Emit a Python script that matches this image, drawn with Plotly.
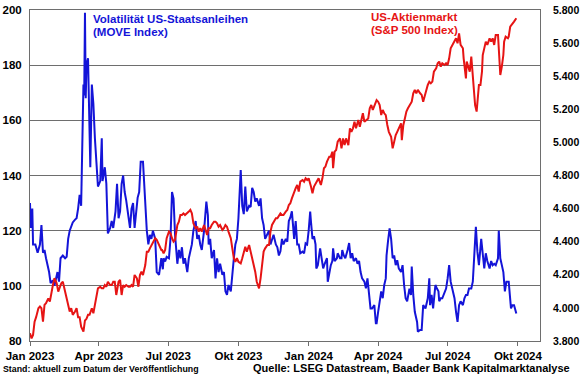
import pandas as pd
import plotly.graph_objects as go

BASE = pd.Timestamp("2023-01-01")

# MOVE index: days since 2023-01-01 and values
move_day = [
    0, 1, 3, 4, 7, 10, 13, 15, 17, 19,
    21, 25, 27, 30, 32, 36, 38, 40, 43, 46,
    48, 50, 52, 54, 56, 59, 61, 63, 65, 67,
    68, 70, 71, 72, 73, 74, 76, 77, 79, 81,
    83, 85, 87, 89, 92, 94, 95, 98, 100, 102,
    105, 107, 109, 112, 114, 116, 118, 120, 122, 124,
    126, 129, 131, 133, 135, 137, 138, 141, 143, 145,
    148, 151, 153, 155, 157, 159, 161, 164, 166, 169,
    172, 174,
    175, 177, 179, 182, 184, 186, 188, 190, 193, 195,
    197, 199, 201, 203, 206, 208, 210, 212, 214, 217,
    219, 221, 223, 225, 228, 231, 233, 234, 236, 238,
    241, 243, 245, 247, 249, 252, 254, 256, 258, 260,
    263, 265, 267, 269, 271, 273, 276, 278, 280, 282,
    284, 287, 289, 291, 293, 295, 297, 300, 302, 304,
    306, 308, 311, 313, 315, 317, 319, 322, 324, 326,
    328, 330, 332, 335, 337, 339, 341, 343, 346, 348,
    350, 352, 354, 357, 359, 361, 363, 365, 367, 368,
    370, 372, 374, 375, 377, 380, 382, 384, 386, 389,
    390, 392, 394, 396, 397, 399, 402, 403, 406, 408,
    409, 411, 413, 416, 418, 420, 422, 424, 427, 429,
    431, 433, 435, 438, 440, 442, 444, 446, 448, 451,
    453, 454, 456, 458, 460, 462, 464, 466, 467, 469,
    471, 473, 475, 477, 479, 481, 483, 486, 488, 490,
    492, 494, 497, 499, 500, 502, 504, 507, 508, 511,
    513, 515, 518,
    521, 523, 524, 526, 528, 529, 531, 533, 535, 536,
    538, 540, 543, 545, 547, 549, 551, 553, 556, 558,
    560, 562, 564, 567, 569, 571, 573, 575, 578, 580,
    582, 584, 586, 588, 591, 593, 595, 597, 599, 602,
    604, 606, 608, 610, 613, 614, 616, 618, 620, 622,
    624, 627, 629, 630, 632, 634, 637,
]
move_val = [
    130, 121, 128, 115, 115, 112, 115, 122, 112, 113,
    110, 105, 101, 102, 100, 105, 101.5, 110, 111, 110,
    110.5, 117, 120, 122, 123, 124, 124.5, 128, 133, 129,
    149, 173, 169, 199, 168, 180, 182.5, 172, 143, 173,
    166, 153.5, 145, 136, 138, 153.5, 138, 143, 137, 119,
    121, 123.5, 121, 127, 137, 124.5, 127, 137, 140, 134,
    131, 124.5, 121, 128, 130, 121, 124.5, 132, 134, 145,
    145, 128, 120, 115, 118.5, 117, 120, 117, 105, 104,
    110, 106,
    110, 108.8, 110.5, 110, 117, 134, 131.6, 118.5, 108, 113,
    110, 114, 108, 110, 105, 110, 113, 115, 120, 123.5,
    117, 118.5, 115, 113, 120, 130.5, 125.6, 115, 117, 110,
    113, 102.7, 110, 105, 108, 104, 105, 98, 96.7, 100.3,
    98, 105, 110, 115, 117, 124.5, 142, 129, 126, 136,
    127, 129, 128.6, 135.5, 134, 130.5, 131.7, 129, 131.7, 124.5,
    122, 117, 118.5, 120, 115, 117, 118.5, 115, 114, 111,
    112.5, 117, 115, 117, 116, 123.5, 124.8, 127, 117, 123.5,
    115, 115, 111.8, 112.4, 111.8, 115.4, 115, 120, 126.9, 123.3,
    117, 118, 115, 106.3, 107.5, 113.6, 109, 106.3, 108, 110,
    101.5, 105, 107.5, 109, 113.6, 109, 110, 111.8, 110, 110,
    113, 111, 110, 113, 115.5, 110, 111.8, 109, 110, 108,
    109, 105, 102.7, 101.5, 99.1, 102.7, 98, 91.8, 91.8, 93,
    86.4, 86.4, 90.6, 95.5, 98, 95.5, 100.3, 102.7, 111, 116.4,
    120.8, 117, 110, 111, 107.5, 109.3, 106.3, 105, 107.5, 100.3,
    95.5, 94.4, 99, 96.7, 107, 96.7, 90.6, 86.9, 83.4, 84,
    84, 93, 91.8,
    95.5, 102.7, 93, 96.7, 91.8, 95.5, 100.3, 99, 98, 94.4,
    95.5, 95.5, 98, 99, 102.7, 107.5, 101.5, 99, 95.5, 90.6,
    86.9, 93, 94.4, 93, 95.5, 96.7, 96.7, 99, 99, 101.5,
    113.6, 121.4, 112.4, 107.5, 117, 110, 106.3, 111.8, 109, 106.3,
    109, 107.5, 108, 107.5, 110, 120, 110, 107.5, 105, 98,
    101.5, 101.5, 95.5, 91.8, 93, 93, 90,
]

# S&P 500: days since 2023-01-01 and values
spx_day = [
    0, 2, 4, 6, 8, 11, 13, 15, 17, 19,
    21, 24, 26, 28, 30, 32, 35, 37, 39, 41,
    43, 46, 48, 50, 52, 54, 56, 59, 61, 63,
    65, 67, 70, 72, 74, 76, 78, 81, 83, 85,
    87, 89, 92, 94, 96, 98, 100, 102, 105, 107,
    109, 111, 113, 116, 118, 120, 122, 124, 126, 129,
    131, 133, 135, 137, 140, 142, 144, 146, 148, 151,
    153, 155, 157, 159, 161, 164, 166, 168, 170, 172,
    173, 175, 177, 179, 182, 184, 186, 188, 190, 193,
    195, 197, 199, 201, 203, 206, 208, 210, 212, 214,
    217, 219, 221, 223, 225, 228, 230, 232, 234, 236,
    238, 241, 243, 245, 247, 249, 252, 254, 256, 258,
    260, 263, 265, 267, 269, 271, 273, 276, 278, 280,
    282, 284, 287, 289, 291, 293, 295, 297, 300, 302,
    304, 306, 308, 311, 313, 315, 317, 319, 322, 324,
    326, 328, 330, 332, 335, 337, 339, 341, 343, 346,
    348,
    350, 352, 354, 357, 359, 361, 363, 365, 368, 370,
    372, 374, 376, 378, 381, 383, 385, 387, 389, 392,
    394, 396, 397, 399, 401, 403, 406, 408, 410, 412,
    414, 417, 419, 421, 423, 425, 427, 430, 432, 434,
    436, 438, 441, 443, 445, 447, 449, 452, 454, 456,
    458, 460, 462, 464, 466, 468, 470, 473, 475, 477,
    479, 481, 483, 486, 487, 489, 491, 493, 495, 497,
    500, 502, 504, 506, 508, 511, 513, 515, 517, 518,
    521, 523, 525, 527, 529, 532, 534, 536, 538, 540,
    543, 545, 547, 549, 551, 553, 556, 558, 560, 562,
    564, 567, 568, 570, 571, 572, 574, 576, 578, 580,
    582, 583, 585, 586, 588, 590, 592, 593, 595, 597,
    599, 602, 604, 606, 608, 610, 613, 615, 616, 618,
    620, 621, 623, 626, 627, 629, 631, 633, 634, 637,
]
spx_val = [
    3847, 3816, 3837, 3917, 3944, 3998, 4008, 3998, 3917, 4018,
    4028, 4058, 4038, 4098, 4138, 4179, 4149, 4098, 4128, 4149,
    4158, 4098, 4058, 4008, 3978, 3998, 3958, 3978, 3998, 3944,
    3944, 3887, 3857, 3924, 3934, 3958, 3958, 3998, 3968, 4018,
    4078, 4118, 4128, 4118, 4118, 4138, 4128, 4158, 4138, 4138,
    4158, 4158, 4078, 4158, 4169, 4078, 4138, 4128, 4138, 4128,
    4128, 4138, 4128, 4199, 4179, 4128, 4199, 4219, 4199, 4259,
    4340, 4340, 4360, 4380, 4400, 4421, 4411, 4390, 4380, 4350,
    4350, 4330, 4350, 4421, 4461, 4451, 4421, 4400, 4411, 4501,
    4521, 4561, 4561, 4571, 4561, 4571, 4582, 4592, 4571, 4511,
    4481, 4491, 4461, 4481, 4461, 4501, 4471, 4441, 4481, 4481,
    4501, 4521, 4521, 4511, 4491, 4501, 4471, 4481, 4501, 4491,
    4461, 4421, 4360, 4300, 4279, 4300, 4279, 4269, 4300, 4340,
    4370, 4340, 4380, 4340, 4300, 4259, 4219, 4158, 4118, 4179,
    4259, 4340, 4360, 4380, 4380, 4461, 4501, 4521, 4541, 4541,
    4561, 4571, 4561, 4561, 4582, 4592, 4622, 4632, 4662, 4703,
    4723,
    4743, 4703, 4763, 4773, 4763, 4783, 4773, 4783, 4733, 4693,
    4733, 4753, 4773, 4783, 4743, 4783, 4844, 4854, 4884, 4914,
    4914, 4944, 4844, 4944, 4954, 5004, 5024, 4964, 5024, 4984,
    5024, 4984, 5085, 5064, 5085, 5125, 5085, 5135, 5095, 5145,
    5176, 5125, 5135, 5145, 5206, 5226, 5196, 5226, 5256, 5246,
    5226, 5165, 5196, 5176, 5165, 5105, 5064, 5034, 4964, 5004,
    5044, 5064, 5085, 5115, 5014, 5105, 5145, 5186, 5206, 5226,
    5246, 5297, 5317, 5297, 5317, 5297, 5287, 5246, 5287, 5297,
    5347, 5367, 5357, 5367, 5427, 5448, 5478, 5488, 5458, 5478,
    5468, 5478, 5468, 5508, 5569, 5589, 5609, 5629, 5599, 5659,
    5589, 5569, 5508, 5427, 5387, 5488, 5448, 5427, 5518, 5387,
    5307, 5226, 5186, 5246, 5347, 5347, 5427, 5528, 5569, 5609,
    5589, 5629, 5609, 5629, 5589, 5649, 5649, 5508, 5407, 5458,
    5528, 5609, 5639, 5629, 5639, 5699, 5709, 5720, 5730, 5750,
]

tick_dates = ["2023-01-01", "2023-04-01", "2023-07-01", "2023-10-01",
              "2024-01-01", "2024-04-01", "2024-07-01", "2024-10-01"]
tick_labels = ["Jan 2023", "Apr 2023", "Jul 2023", "Okt 2023",
               "Jan 2024", "Apr 2024", "Jul 2024", "Okt 2024"]

assert len(move_day) == len(move_val), (len(move_day), len(move_val))
assert len(spx_day) == len(spx_val), (len(spx_day), len(spx_val))

move_x = BASE + pd.to_timedelta(move_day, unit="D")
spx_x = BASE + pd.to_timedelta(spx_day, unit="D")

BLUE = "#1414d8"
RED = "#e61414"
GRID = "#6e6e6e"
FONT = "Liberation Sans"

fig = go.Figure()
fig.add_trace(go.Scatter(x=move_x, y=move_val, mode="lines",
                         line=dict(color=BLUE, width=2), yaxis="y",
                         name="MOVE"))
fig.add_trace(go.Scatter(x=spx_x, y=spx_val, mode="lines",
                         line=dict(color=RED, width=2), yaxis="y2",
                         name="S&P 500"))

fig.update_layout(
    width=580, height=375,
    margin=dict(l=30, r=40, t=10, b=34, autoexpand=False),
    paper_bgcolor="white", plot_bgcolor="white",
    showlegend=False,
    separators=",.",
    font=dict(family=FONT, color="black"),
    xaxis=dict(
        type="date", automargin=False,
        range=["2023-01-01", "2024-10-30"],
        tickvals=tick_dates, ticktext=tick_labels,
        ticks="outside", ticklen=4, tickcolor=GRID, tickwidth=1,
        showgrid=False, showline=True, linecolor=GRID, linewidth=1,
        mirror=True, ticklabelstandoff=0,
        tickfont=dict(family=FONT, size=11.5, color="black", weight="bold"),
        zeroline=False,
    ),
    yaxis=dict(
        automargin=False,
        range=[80, 200], dtick=20, tick0=80,
        showgrid=True, gridcolor=GRID, gridwidth=1,
        showline=True, linecolor=GRID, linewidth=1, mirror=True,
        ticks="", ticklabelstandoff=5,
        tickfont=dict(family=FONT, size=11.5, color="black", weight="bold"),
        zeroline=False,
    ),
    yaxis2=dict(
        automargin=False,
        range=[3800, 5800], dtick=200, tick0=3800,
        overlaying="y", side="right",
        showgrid=False, showline=False, ticks="",
        tickformat=",.0f", ticklabelstandoff=12,
        tickfont=dict(family=FONT, size=10.5, color="black", weight="bold"),
        zeroline=False,
    ),
)

ann_font_blue = dict(family=FONT, size=11.5, color=BLUE, weight="bold")
ann_font_red = dict(family=FONT, size=11.5, color=RED, weight="bold")

def px_y(py):
    return (341 - py) / 331

def px_x(px):
    return (px - 30) / 510

annotations = [
    dict(text="Volatilität US-Staatsanleihen", x=px_x(92), y=px_y(19),
         font=ann_font_blue),
    dict(text="(MOVE Index)", x=px_x(92), y=px_y(32), font=ann_font_blue),
    dict(text="US-Aktienmarkt", x=px_x(370), y=px_y(17), font=ann_font_red),
    dict(text="(S&P 500 Index)", x=px_x(370), y=px_y(30), font=ann_font_red),
    dict(text="Stand: aktuell zum Datum der Veröffentlichung", x=px_x(2),
         y=px_y(369), font=dict(family=FONT, size=8.8, color="black", weight="bold")),
    dict(text="Quelle: LSEG Datastream, Baader Bank Kapitalmarktanalyse",
         x=px_x(252), y=px_y(368),
         font=dict(family=FONT, size=11, color="black", weight="bold")),
]
for a in annotations:
    a.update(xref="paper", yref="paper", xanchor="left", yanchor="middle",
             showarrow=False, align="left", borderpad=0)
fig.update_layout(annotations=annotations)

fig.write_html(
    "out.html",
    config={"displayModeBar": False},
    post_script="document.body.style.margin='0';document.body.style.padding='0';"
                "document.body.style.overflow='hidden';",
)
